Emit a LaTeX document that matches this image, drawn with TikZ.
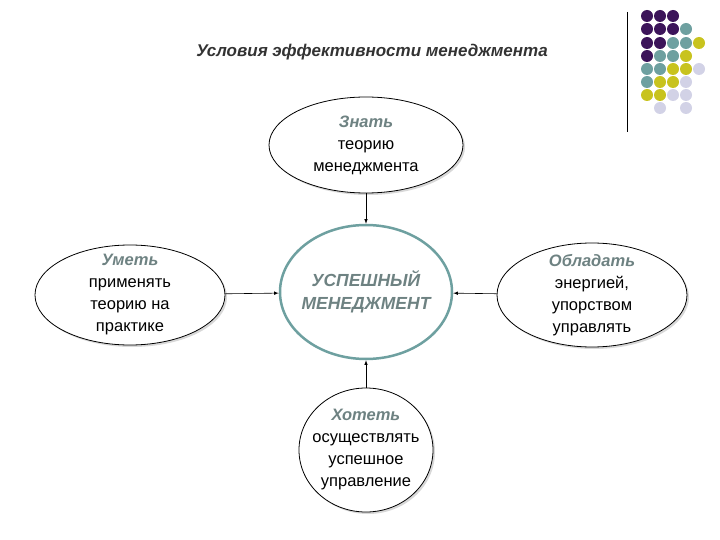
\documentclass[tikz,border=0pt]{standalone}
\usepackage{fontspec}
\setmainfont{Liberation Sans}
\usetikzlibrary{shadows,shapes.geometric}
\definecolor{pp}{RGB}{60,20,90}
\definecolor{tt}{RGB}{110,160,160}
\definecolor{yy}{RGB}{200,195,30}
\definecolor{ll}{RGB}{210,210,230}
\definecolor{hd}{RGB}{110,130,130}
\def\nn{n}
\begin{document}
\begin{tikzpicture}[x=1pt,y=-1pt,
  ell/.style={draw=black,line width=0.8pt,ellipse,fill=white,drop shadow={shadow xshift=2pt,shadow yshift=-2pt,fill=gray!60}},
  tx/.style={align=center,font=\fontsize{16.5}{22}\selectfont},
  arr/.style={-latex,line width=0.6pt}]
\useasboundingbox (0,0) rectangle (720,540);
\node[font=\bfseries\itshape\fontsize{17}{20}\selectfont,text=black!80] (title) at (372,52) {Условия эффективности менеджмента};
\draw[line width=1pt] (627,12) -- (627,132);
\def\dotrow#1#2{\foreach \c [count=\i from 0] in {#2}{\ifx\c\nn\else\fill[\c] (647+13*\i,#1) circle (6);\fi}}
\dotrow{16}{pp,pp,pp,n,n}
\dotrow{29}{pp,pp,pp,tt,n}
\dotrow{43}{pp,pp,tt,tt,yy}
\dotrow{56}{pp,tt,tt,yy,n}
\dotrow{69}{tt,tt,yy,yy,ll}
\dotrow{82}{tt,yy,yy,ll,n}
\dotrow{95}{yy,yy,ll,ll,n}
\dotrow{108}{n,ll,n,ll,n}
\node[ell,minimum width=194,minimum height=96] (top) at (366,145) {};
\node[tx] at (top) {{\bfseries\itshape\color{hd}Знать}\\теорию\\менеджмента};
\node[ell,minimum width=190,minimum height=100] (left) at (130,295) {};
\node[tx] at (left) {{\bfseries\itshape\color{hd}Уметь}\\применять\\теорию на\\практике};
\node[ell,minimum width=190,minimum height=104] (right) at (592,295) {};
\node[tx] at (right) {{\bfseries\itshape\color{hd}Обладать}\\энергией,\\упорством\\управлять};
\node[ell,minimum width=134,minimum height=124] (bot) at (366,450) {};
\node[tx] at (bot) {{\bfseries\itshape\color{hd}Хотеть}\\осуществлять\\успешное\\управление};
\node[ellipse,draw=tt,line width=2.5pt,fill=white,minimum width=172,minimum height=134] (c) at (366,292) {};
\node[align=center,font=\bfseries\itshape\fontsize{17.5}{23}\selectfont,text=hd] at (c) {УСПЕШНЫЙ\\МЕНЕДЖМЕНТ};
\draw[arr] (top) -- (c);
\draw[arr] (left) -- (c);
\draw[arr] (right) -- (c);
\draw[arr] (bot) -- (c);
\end{tikzpicture}
\end{document}
